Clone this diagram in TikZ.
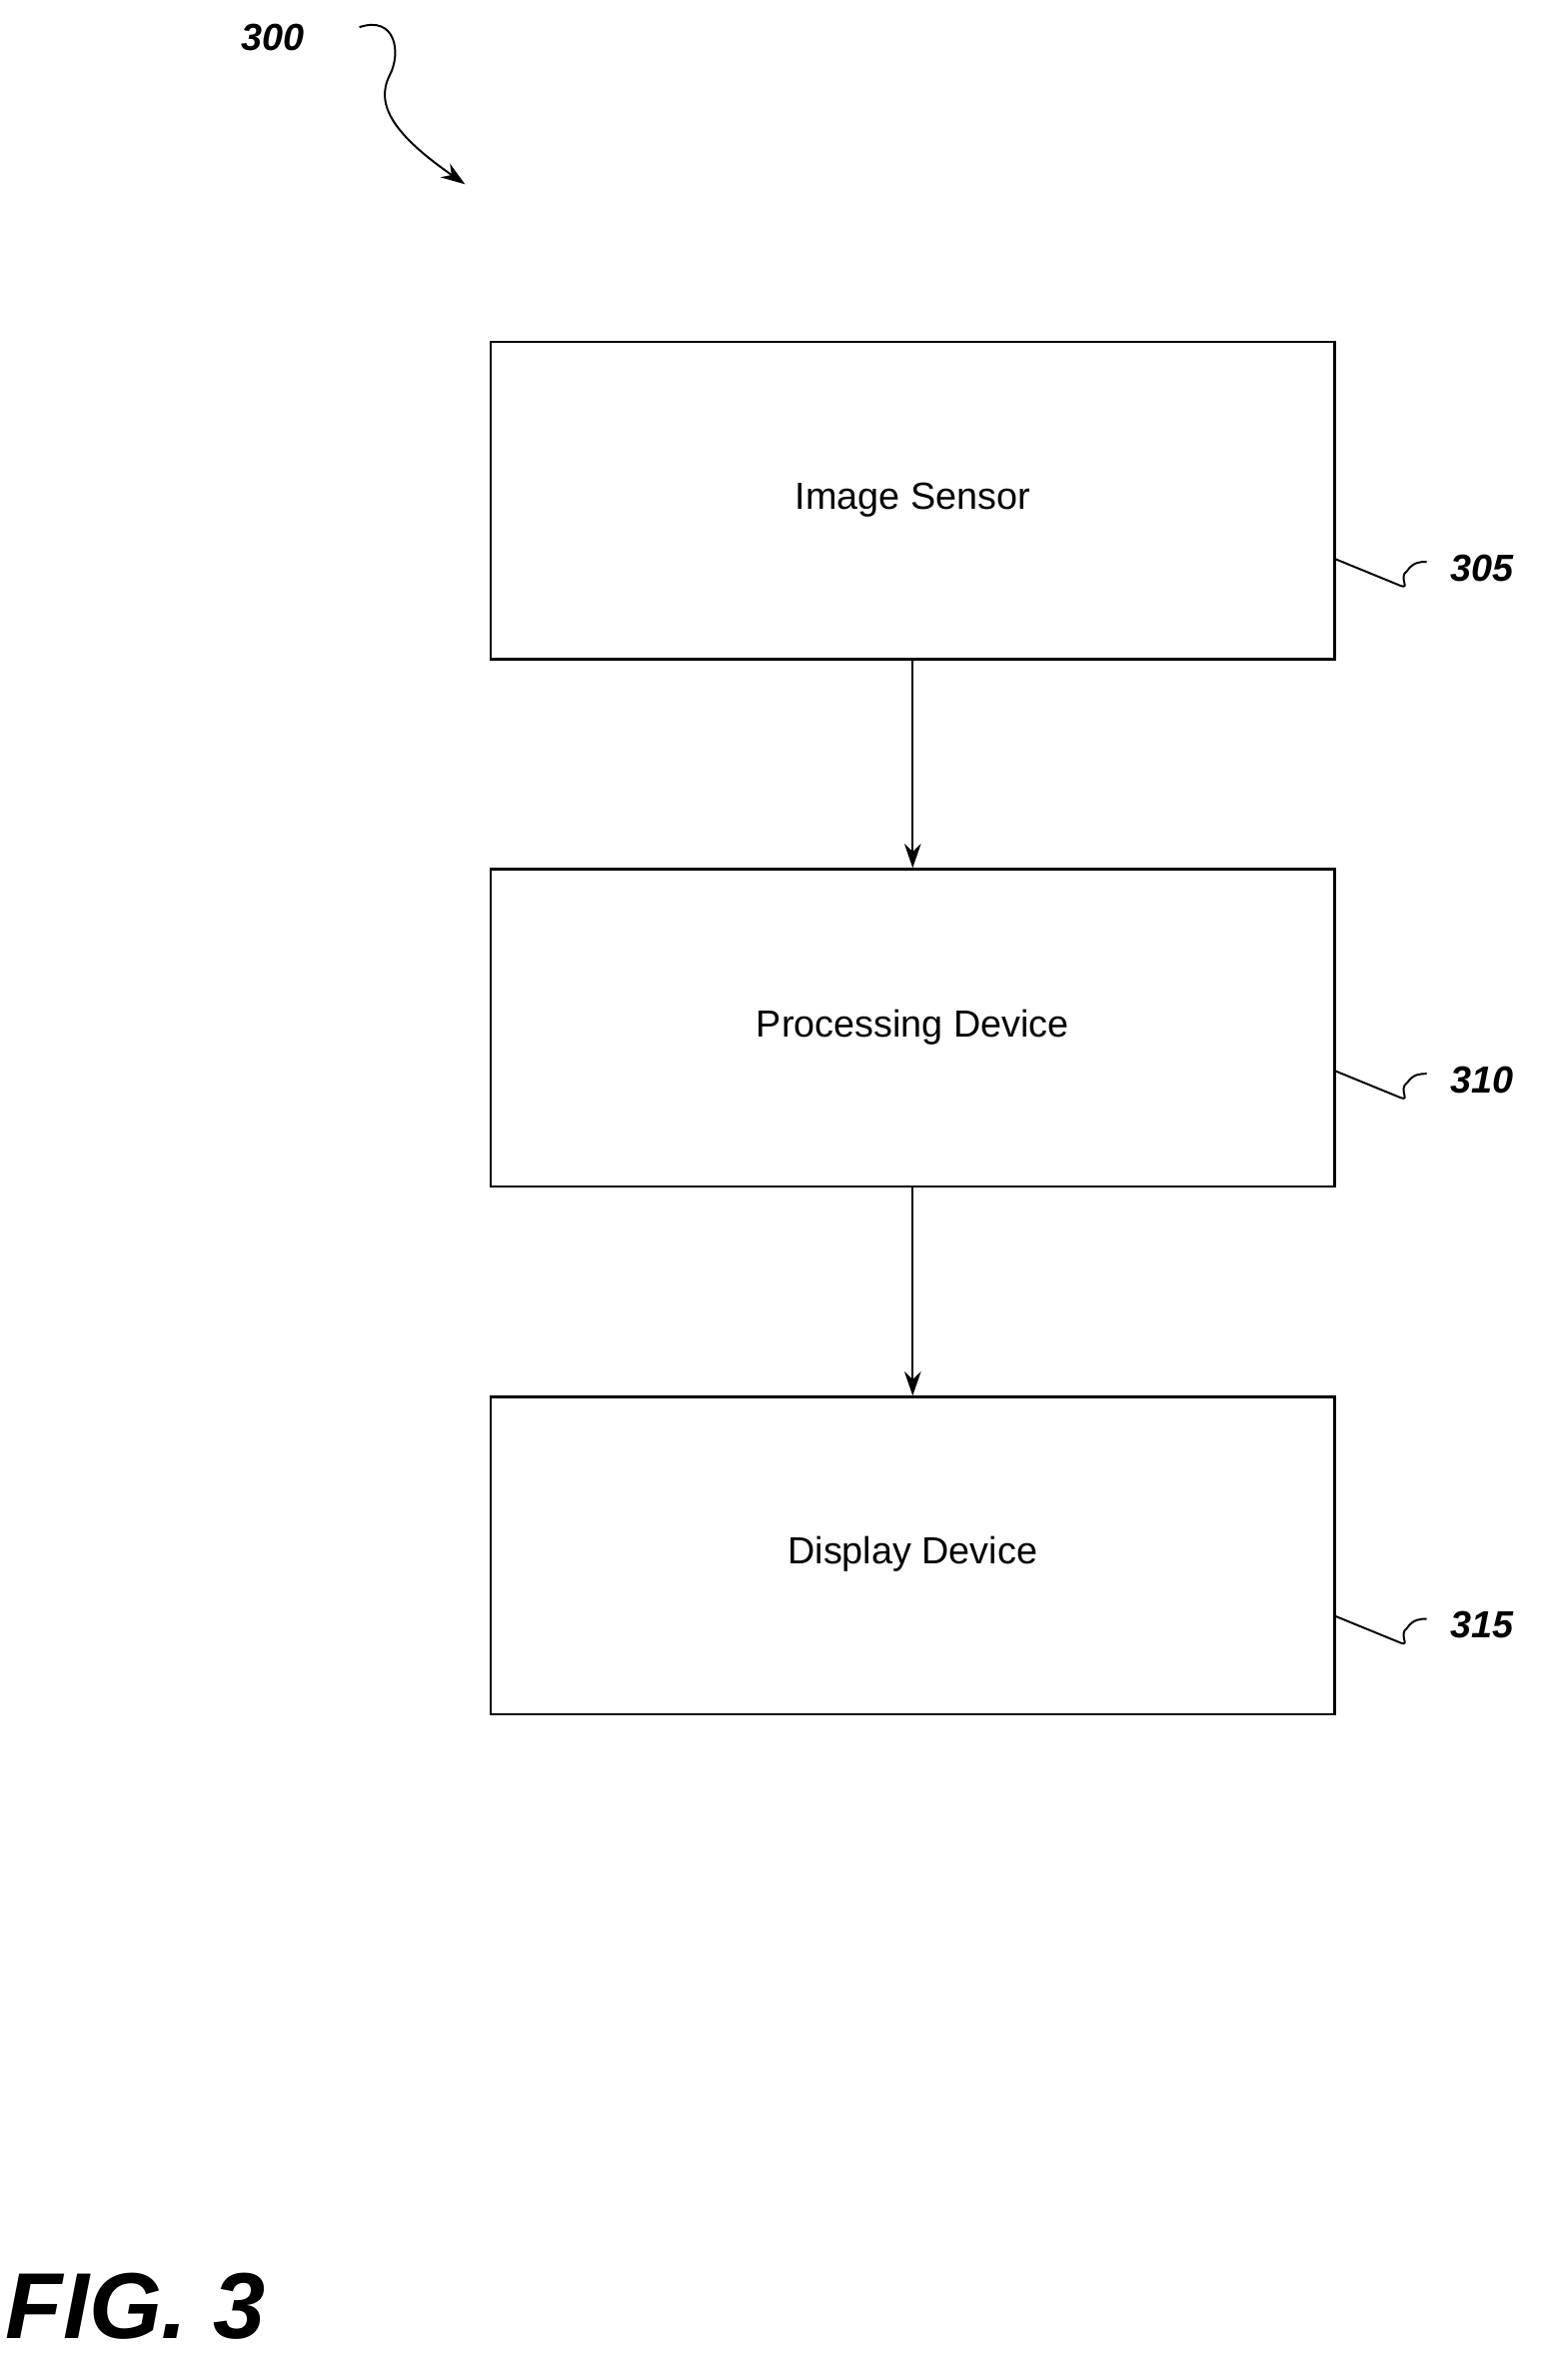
\documentclass[tikz,border=0pt]{standalone}
\usepackage{fontspec}
\setmainfont{Liberation Sans}
\usetikzlibrary{arrows.meta}
\begin{document}
\begin{tikzpicture}[x=1pt,y=-1pt,
 box/.style={draw,line width=1.6pt,minimum width=559pt,minimum height=210pt,font=\fontsize{25}{30}\selectfont,inner sep=0pt},
 arr/.style={line width=1.5pt,-{Stealth[length=16pt,width=11pt]}},
 lead/.style={line width=1.3pt},
 ref/.style={font=\fontsize{25}{30}\selectfont\bfseries\itshape,anchor=west}]
\useasboundingbox (0,0) rectangle (1024,1576);
\node[box] (b1) at (604.5,331.5) {};
\node[font=\fontsize{25}{30}\selectfont] (t1) at (604.5,331) {Image Sensor};
\node[box] (b2) at (604.5,680.5) {};
\node[font=\fontsize{25}{30}\selectfont] (t2) at (604.5,680) {Processing Device};
\node[box] (b3) at (604.5,1030) {};
\node[font=\fontsize{25}{30}\selectfont] (t3) at (604.5,1029) {Display Device};
\draw[arr] (b1.south) -- (b2.north);
\draw[arr] (b2.south) -- (b3.north);
\node[ref] (r1) at (957,376) {305};
\node[ref] (r2) at (957,715) {310};
\node[ref] (r3) at (957,1076) {315};
\foreach \n/\y in {1/370,2/709,3/1070}{
 \coordinate (s\n) at (884,\y);
 \draw[lead] (s\n) -- ++(44,18) .. controls ++(6,2) and ++(-6,4) .. ++(4,-10) .. controls ++(4,-6) and ++(-4,0) .. ++(13,-6);
}
\node[font=\fontsize{25}{30}\selectfont\bfseries\itshape] (r0) at (181,25) {300};
\coordinate (a0) at (238,18);
\coordinate (a1) at (308,122);
\draw[lead,-{Stealth[length=16pt,width=11pt]}] (a0) .. controls (262,10) and (266,35) .. (258,50) .. controls (248,70) and (262,90) .. (a1);
\node[font=\fontsize{62}{70}\selectfont\bfseries\itshape] (fig) at (90,1527) {FIG. 3};
\end{tikzpicture}
\end{document}
